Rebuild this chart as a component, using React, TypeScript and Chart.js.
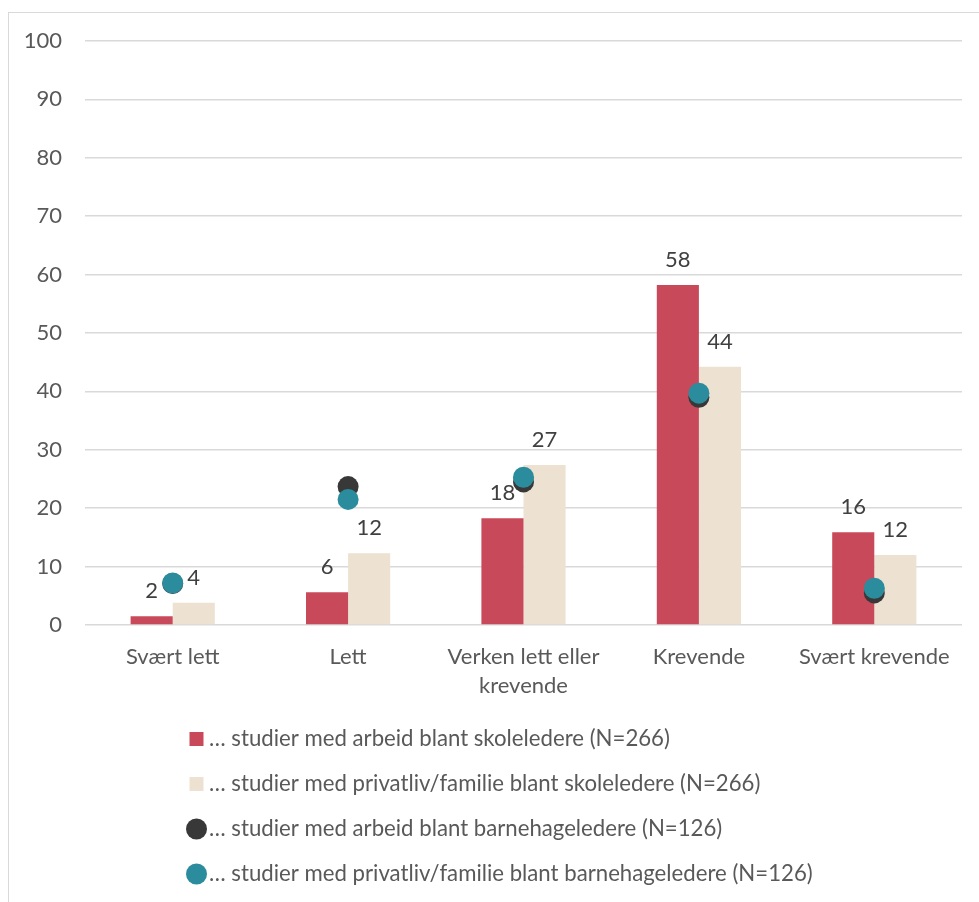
import React, { useEffect, useRef } from "react";
import { Chart, registerables } from "chart.js";

Chart.register(...registerables);

const categories: (string | string[])[] = [
  "Svært lett",
  "Lett",
  ["Verken lett eller", "krevende"],
  "Krevende",
  "Svært krevende",
];

const skoleArbeid = [1.5, 5.6, 18.3, 58.2, 15.9];
const skolePrivat = [3.8, 12.3, 27.4, 44.2, 12.0];
const barnehageArbeid = [7.1, 23.7, 24.5, 39.0, 5.5];
const barnehagePrivat = [7.2, 21.5, 25.3, 39.7, 6.3];

const seriesLabels = [
  "… studier med arbeid blant skoleledere (N=266)",
  "… studier med privatliv/familie blant skoleledere (N=266)",
  "… studier med arbeid blant barnehageledere (N=126)",
  "… studier med privatliv/familie blant barnehageledere (N=126)",
];

const yMin = 0;
const yMax = 100;
const yStep = 10;

const RED = "#C84A5A";
const BEIGE = "#EDE1D1";
const DARK = "#383838";
const TEAL = "#2B8C9D";
const FONT = "Lato";

const barLabelPlugin = {
  id: "barLabels",
  afterDatasetsDraw(chart: any) {
    const ctx = chart.ctx;
    ctx.save();
    ctx.font = `22px ${FONT}`;
    ctx.fillStyle = "#404040";
    ctx.textAlign = "center";
    ctx.textBaseline = "middle";
    chart.data.datasets.forEach((ds: any, i: number) => {
      if (ds.type !== "bar") return;
      const meta = chart.getDatasetMeta(i);
      meta.data.forEach((el: any, j: number) => {
        const v = ds.data[j];
        ctx.fillText(String(Math.round(v)), el.x, el.y - 25);
      });
    });
    ctx.restore();
  },
};

const legendPlugin = {
  id: "customLegend",
  afterDraw(chart: any) {
    const ctx = chart.ctx;
    const area = chart.chartArea;
    ctx.save();
    ctx.font = `22.2px ${FONT}`;
    ctx.textBaseline = "middle";
    ctx.textAlign = "left";
    chart.data.datasets.forEach((ds: any, i: number) => {
      const y = area.bottom + 114 + i * 45;
      const mx = 187.5;
      ctx.fillStyle = ds.backgroundColor;
      if (ds.type === "bar") {
        ctx.fillRect(mx - 7, y - 7, 14, 14);
      } else {
        ctx.beginPath();
        ctx.arc(mx, y, 10.5, 0, Math.PI * 2);
        ctx.fill();
      }
      ctx.fillStyle = "#595959";
      ctx.fillText(ds.label, 200, y);
    });
    ctx.restore();
  },
};

export default function App() {
  const ref = useRef<HTMLCanvasElement | null>(null);

  useEffect(() => {
    if (!ref.current) return;
    const chart = new Chart(ref.current, {
      type: "bar",
      data: {
        labels: categories as any,
        datasets: [
          {
            type: "bar",
            label: seriesLabels[0],
            data: skoleArbeid,
            backgroundColor: RED,
            order: 2,
            categoryPercentage: 0.48,
            barPercentage: 1,
          } as any,
          {
            type: "bar",
            label: seriesLabels[1],
            data: skolePrivat,
            backgroundColor: BEIGE,
            order: 3,
            categoryPercentage: 0.48,
            barPercentage: 1,
          } as any,
          {
            type: "line",
            label: seriesLabels[2],
            data: barnehageArbeid,
            backgroundColor: DARK,
            borderColor: DARK,
            showLine: false,
            pointRadius: 10.5,
            pointBorderWidth: 0,
            order: 1,
          } as any,
          {
            type: "line",
            label: seriesLabels[3],
            data: barnehagePrivat,
            backgroundColor: TEAL,
            borderColor: TEAL,
            showLine: false,
            pointRadius: 10.5,
            pointBorderWidth: 0,
            order: 0,
          } as any,
        ],
      },
      options: {
        animation: false,
        responsive: false,
        devicePixelRatio: 1,
        layout: { padding: { left: 0, right: 17, top: 28, bottom: 0 } },
        plugins: {
          legend: { display: false },
          tooltip: { enabled: false },
        },
        scales: {
          x: {
            grid: { display: false },
            border: { display: false },
            ticks: {
              font: { family: FONT, size: 22, lineHeight: 1.318 },
              color: "#595959",
              padding: 9,
              maxRotation: 0,
              autoSkip: false,
            },
            afterFit: (s: any) => {
              s.height = 277;
            },
          },
          y: {
            min: yMin,
            max: yMax,
            border: { display: false },
            grid: { color: "#d9d9d9", lineWidth: 1.5, drawTicks: false },
            ticks: {
              stepSize: yStep,
              padding: 23,
              font: { family: FONT, size: 22 },
              color: "#595959",
            },
            afterFit: (s: any) => {
              s.width = 76;
              s.paddingTop = 0;
              s.paddingBottom = 0;
            },
          },
        },
      } as any,
      plugins: [barLabelPlugin, legendPlugin],
    });
    return () => chart.destroy();
  }, []);

  return (
    <div
      style={{
        position: "fixed",
        left: 8,
        top: 12,
        width: 971,
        height: 890,
        borderLeft: "1px solid #d9d9d9",
        borderTop: "1px solid #d9d9d9",
        boxSizing: "border-box",
        background: "#fff",
      }}
    >
      <canvas ref={ref} width={970} height={889} style={{ display: "block" }} />
    </div>
  );
}
